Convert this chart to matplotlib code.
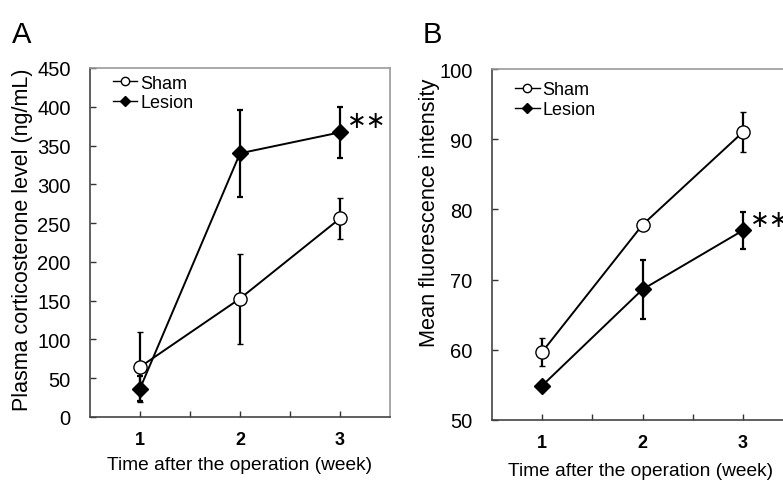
import matplotlib
matplotlib.use("Agg")
import matplotlib.pyplot as plt
from matplotlib.lines import Line2D

plt.rcParams['font.family'] = ['Liberation Sans', 'DejaVu Sans']

weeks = [1, 2, 3]
week_labels = ['1', '2', '3']

# Panel A: plasma corticosterone (ng/mL)
a_sham = [64.5, 152.7, 256]
a_sham_err = [45, 58, 27]
a_lesion = [36.6, 340, 367]
a_lesion_err = [16, 56, 33]

# Panel B: mean fluorescence intensity
b_sham = [59.7, 77.8, 91.0]
b_sham_err = [2.0, 0.5, 2.85]
b_lesion = [54.9, 68.6, 77.0]
b_lesion_err = [0.4, 4.2, 2.7]

W, H = 783, 489
fig = plt.figure(figsize=(W / 100, H / 100), dpi=100)

def ax_rect(l, t, r, b):
    return [l / W, 1 - b / H, (r - l) / W, (b - t) / H]

axA = fig.add_axes(ax_rect(90, 69, 390, 418))
axB = fig.add_axes(ax_rect(492, 70, 793, 421))

def style(ax, ylim, yticks, ylabel, ylsize, ylcoords, xlcoords):
    ax.set_xlim(0.5, 3.5)
    ax.set_ylim(*ylim)
    ax.set_yticks(yticks)
    ax.set_xticks(weeks)
    ax.set_xticklabels(week_labels, fontweight='bold', fontsize=13)
    ax.set_xticks([1.5, 2.5], minor=True)
    ax.tick_params(axis='x', which='both', direction='in', length=4, width=1,
                   color='#333333', pad=10)
    ax.tick_params(axis='y', direction='in', length=4, width=1,
                   color='#333333', labelsize=14.5, pad=14)
    ax.tick_params(axis='y', which='minor', left=False)
    for s in ['left', 'bottom']:
        ax.spines[s].set_color('#444444')
        ax.spines[s].set_linewidth(1.2)
    for s in ['top', 'right']:
        ax.spines[s].set_color('#999999')
        ax.spines[s].set_linewidth(1.2)
    ax.set_ylabel(ylabel, fontsize=ylsize)
    ax.yaxis.set_label_coords(*ylcoords)
    ax.set_xlabel('Time after the operation (week)', fontsize=13.8)
    ax.xaxis.set_label_coords(*xlcoords)

def draw(ax, sham, sham_err, lesion, lesion_err, legend_y):
    ax.errorbar(weeks, sham, yerr=sham_err, color='black', lw=1.4,
                marker='o', ms=9.5, mfc='white', mec='black', mew=1.0,
                capsize=2.5, elinewidth=1.6, capthick=1.6, zorder=3)
    ax.errorbar(weeks, lesion, yerr=lesion_err, color='black', lw=1.4,
                marker='D', ms=8.3, mfc='black', mec='black',
                capsize=2.5, elinewidth=1.6, capthick=1.6, zorder=4)
    handles = [
        Line2D([], [], color='black', lw=1.0, marker='o', ms=6, mfc='white', mec='black'),
        Line2D([], [], color='black', lw=1.0, marker='D', ms=5, mfc='black', mec='black'),
    ]
    ax.legend(handles, ['Sham', 'Lesion'], loc='upper left', frameon=False,
              fontsize=13, handlelength=1.35, handletextpad=0.15,
              labelspacing=0.15, borderaxespad=0.0,
              bbox_to_anchor=(0.053, legend_y))

style(axA, (0, 450), range(0, 451, 50), 'Plasma corticosterone level (ng/mL)',
      15.5, (-0.19, 0.51), (0.497, -0.112))
draw(axA, a_sham, a_sham_err, a_lesion, a_lesion_err, 1.002)
axA.text(3.264, 383, '∗∗', fontsize=17, ha='center', va='center',
         family='DejaVu Sans')

style(axB, (50, 100), range(50, 101, 10), 'Mean fluorescence intensity',
      15.7, (-0.173, 0.593), (0.492, -0.12))
draw(axB, b_sham, b_sham_err, b_lesion, b_lesion_err, 0.985)
axB.text(3.27, 78.6, '∗∗', fontsize=17, ha='center', va='center',
         family='DejaVu Sans')

fig.text(12 / W, 1 - 35 / H, 'A', fontsize=21, va='center', ha='left')
fig.text(423 / W, 1 - 35 / H, 'B', fontsize=21, va='center', ha='left')

fig.savefig('out.png', dpi=100)
